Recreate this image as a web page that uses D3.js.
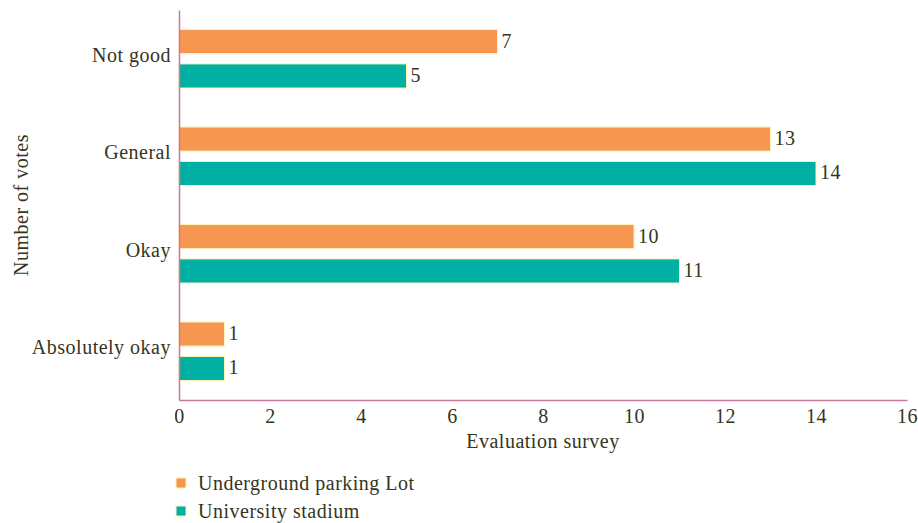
<!DOCTYPE html>
<html>
<head>
<meta charset="utf-8">
<script src="https://cdn.jsdelivr.net/npm/d3@7"></script>
<style>
  html, body { margin: 0; padding: 0; background: #fff; }
  svg text { font-family: "Liberation Serif", "DejaVu Serif", serif; fill: #35351d; letter-spacing: 0.5px; }
</style>
</head>
<body>
<svg id="chart" width="918" height="523"></svg>
<script>
// Evaluation categories, top to bottom
const categories = ["Not good", "General", "Okay", "Absolutely okay"];
const seriesNames = ["Underground parking Lot", "University stadium"];
const parkingLot = [7, 13, 10, 1];
const stadium = [5, 14, 11, 1];
const xTicks = [0, 2, 4, 6, 8, 10, 12, 14, 16];

const colors = ["#F79651", "#00B0A2"];
const axisColor = "#C97A9C";
const fontSize = 20;

const svg = d3.select("#chart");
const margin = { left: 179, right: 11, top: 10, bottom: 123 };
const width = 918 - margin.left - margin.right;
const height = 523 - margin.top - margin.bottom;

const g = svg.append("g").attr("transform", `translate(${margin.left},${margin.top})`);

const x = d3.scaleLinear().domain([0, 16]).range([0, width]);
const y0 = d3.scaleBand().domain(categories).range([0, height]).paddingInner(0.4).paddingOuter(0.2);
const y1 = d3.scaleBand().domain(seriesNames).range([0, y0.bandwidth()]).paddingInner(0.3);

const rows = categories.map((c, i) => ({ cat: c, vals: [parkingLot[i], stadium[i]] }));

const grp = g.selectAll(".cat").data(rows).join("g")
  .attr("transform", d => `translate(0,${y0(d.cat)})`);

grp.selectAll("rect").data(d => d.vals.map((v, j) => ({ v, j })))
  .join("rect")
  .attr("x", 0)
  .attr("y", d => y1(seriesNames[d.j]))
  .attr("width", d => x(d.v))
  .attr("height", y1.bandwidth())
  .attr("fill", d => colors[d.j])
  .attr("stroke", "#FFF3B8")
  .attr("stroke-width", 1);

grp.selectAll("text.val").data(d => d.vals.map((v, j) => ({ v, j })))
  .join("text")
  .attr("class", "val")
  .attr("x", d => x(d.v) + 4)
  .attr("y", d => y1(seriesNames[d.j]) + y1.bandwidth() / 2)
  .attr("dy", "0.3em")
  .attr("font-size", fontSize)
  .text(d => d.v);

// X axis
const xAxis = g.append("g").attr("transform", `translate(0,${height})`)
  .call(d3.axisBottom(x).tickValues(xTicks).tickSize(0).tickPadding(9));
xAxis.select(".domain").attr("stroke", axisColor).attr("stroke-width", 1.5);
xAxis.selectAll("text").attr("font-size", fontSize).attr("fill", "#35351d");

// Y axis
const yAxis = g.append("g")
  .call(d3.axisLeft(y0).tickSize(0).tickPadding(8));
yAxis.select(".domain").attr("stroke", axisColor).attr("stroke-width", 1.5);
yAxis.selectAll("text").attr("font-size", fontSize).attr("fill", "#35351d").attr("dy", "0.15em");

// Axis titles
svg.append("text")
  .attr("x", margin.left + width / 2)
  .attr("y", 448)
  .attr("text-anchor", "middle")
  .attr("font-size", fontSize)
  .text("Evaluation survey");

svg.append("text")
  .attr("transform", `translate(28,${margin.top + height / 2}) rotate(-90)`)
  .attr("text-anchor", "middle")
  .attr("font-size", fontSize)
  .text("Number of votes");

// Legend
const legend = svg.append("g").attr("transform", "translate(176,476)");
seriesNames.forEach((name, i) => {
  const row = legend.append("g").attr("transform", `translate(0,${i * 28})`);
  row.append("rect").attr("x", 0).attr("y", 2).attr("width", 10).attr("height", 10)
    .attr("fill", colors[i]).attr("stroke", "#FFF3B8").attr("stroke-width", 1);
  row.append("text").attr("x", 22).attr("y", 7).attr("dy", "0.35em")
    .attr("font-size", fontSize).text(name);
});
</script>
</body>
</html>
